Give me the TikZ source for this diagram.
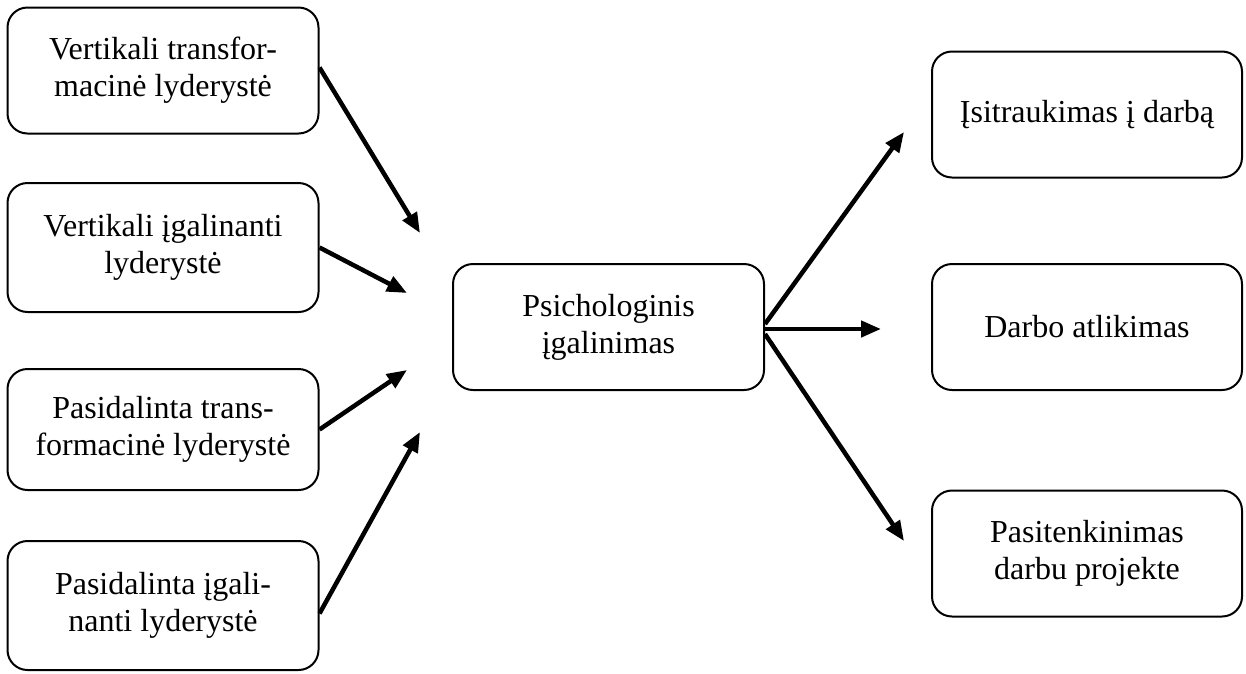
\documentclass[tikz,border=0pt]{standalone}
\usepackage{fontspec}
\setmainfont{Liberation Serif}
\usetikzlibrary{arrows.meta}
\begin{document}
\begin{tikzpicture}[x=1pt,y=-1pt,
  box/.style={draw,line width=2pt,rounded corners=20pt,minimum width=311pt,
    minimum height=126pt,align=center,font=\fontsize{32}{37}\selectfont},
  link/.style={line width=4.5pt,-{Triangle[length=20pt,width=16pt]}}]
  \useasboundingbox (0,0) rectangle (1246,673);
  \node[box] (vt) at (163,70.5) {Vertikali transfor-\\macinė lyderystė};
  \node[box,minimum height=129pt] (vi) at (163,247.5) {Vertikali įgalinanti\\lyderystė};
  \node[box,minimum height=121pt] (pt) at (163,429.5) {Pasidalinta trans-\\formacinė lyderystė};
  \node[box,minimum height=129pt] (pi) at (163,605.5) {Pasidalinta įgali-\\nanti lyderystė};
  \node[box] (pe) at (608.5,327) {Psichologinis\\įgalinimas};
  \node[box,minimum width=310pt] (it) at (1087,114.5) {Įsitraukimas į darbą};
  \node[box,minimum width=310pt] (da) at (1087,327) {Darbo atlikimas};
  \node[box,minimum width=310pt] (pd) at (1087,553.5) {Pasitenkinimas\\darbu projekte};
  \coordinate (in1) at (420,233);
  \coordinate (in2) at (407,293);
  \coordinate (in3) at (407,370);
  \coordinate (in4) at (420,432);
  \coordinate (out1) at (904,132);
  \coordinate (out2) at (881,329);
  \coordinate (out3) at (904,541);
  \draw[link] ([yshift=3pt]vt.east) -- (in1);
  \draw[link] (vi.east) -- (in2);
  \draw[link] (pt.east) -- (in3);
  \draw[link] ([yshift=-8pt]pi.east) -- (in4);
  \draw[link] ([yshift=3pt]pe.east) -- (out1);
  \draw[link] ([yshift=-2pt]pe.east) -- (out2);
  \draw[link] ([yshift=-7pt]pe.east) -- (out3);
\end{tikzpicture}
\end{document}
